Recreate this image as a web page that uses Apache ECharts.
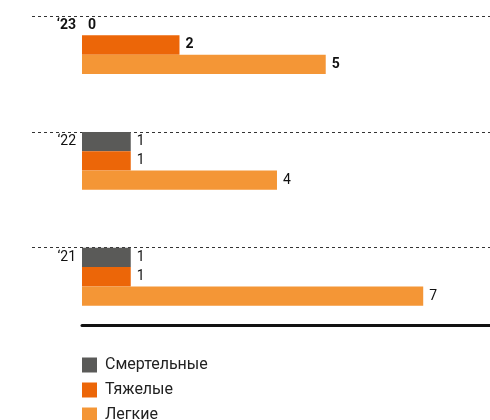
<!DOCTYPE html>
<html>
<head>
<meta charset="utf-8">
<script src="https://cdn.jsdelivr.net/npm/echarts@6/dist/echarts.min.js"></script>
<style>
  html, body { margin: 0; padding: 0; background: #fff; }
  #chart { width: 490px; height: 420px; }
</style>
</head>
<body>
<div id="chart"></div>
<script>
// данные
const years = ['‘23', '‘22', '‘21']
const seriesNames = ['Смертельные', 'Тяжелые', 'Легкие']
const fatal = [0, 1, 1]
const severe = [2, 1, 1]
const light = [5, 4, 7]
const colors = ['#5a5a58', '#ec6608', '#f49636']

// 6 строк на год: 3 бара + пустые
const ROWS_PER_YEAR = 6
const rowCount = 16
const rows = []
for (let i = 0; i < rowCount; i++) rows.push('r' + i)

function rowData (values, k) {
  const arr = rows.map(() => '-')
  values.forEach((v, i) => {
    arr[i * ROWS_PER_YEAR + k] = {
      value: v,
      label: { fontWeight: i === 0 ? 'bold' : 'normal' }
    }
  })
  return arr
}

const chart = echarts.init(document.getElementById('chart'))

chart.setOption({
  animation: false,
  textStyle: { fontFamily: 'Roboto' },
  grid: [
    { left: 82, right: 0, top: 16, bottom: 95 },
    // сетка только для пунктирных разделителей годов
    { left: 32, right: 0, top: 16, bottom: 172.5 }
  ],
  xAxis: [{
    type: 'value',
    gridIndex: 0,
    min: 0,
    max: 8.37,
    axisLabel: { show: false },
    axisTick: { show: false },
    splitLine: { show: false },
    axisLine: { show: true, lineStyle: { color: '#111', width: 3 } }
  }, {
    type: 'value',
    gridIndex: 1,
    min: 0,
    max: 1,
    show: false
  }],
  yAxis: [{
    type: 'category',
    gridIndex: 0,
    inverse: true,
    data: rows,
    axisLine: { show: false },
    axisTick: { show: false },
    splitLine: { show: false },
    axisLabel: {
      interval: 0,
      margin: 6,
      fontSize: 14,
      color: '#111',
      formatter: function (v, idx) {
        if (idx % ROWS_PER_YEAR !== 0) return ''
        const y = years[idx / ROWS_PER_YEAR]
        return idx === 0 ? '{b|' + y + '}' : y
      },
      rich: { b: { fontWeight: 'bold', fontSize: 14, color: '#111' } }
    }
  }, {
    type: 'value',
    gridIndex: 1,
    inverse: true,
    min: 0,
    max: years.length - 1,
    interval: 1,
    axisLine: { show: false },
    axisTick: { show: false },
    axisLabel: { show: false },
    splitLine: {
      show: true,
      lineStyle: { color: '#333', type: [3, 3], width: 1 }
    }
  }],
  legend: {
    orient: 'vertical',
    left: 82,
    top: 357,
    height: 90,
    padding: 0,
    itemWidth: 15,
    itemHeight: 15,
    itemGap: 9,
    icon: 'rect',
    data: seriesNames,
    textStyle: { fontSize: 16, color: '#222', padding: [0, 0, 0, 3] }
  },
  series: [fatal, severe, light].map((vals, k) => ({
    name: seriesNames[k],
    type: 'bar',
    xAxisIndex: 0,
    yAxisIndex: 0,
    barWidth: '100%',
    barGap: '-100%',
    itemStyle: { color: colors[k] },
    label: {
      show: true,
      position: 'right',
      distance: 6,
      fontSize: 14,
      color: '#111'
    },
    data: rowData(vals, k)
  }))
})
</script>
</body>
</html>
